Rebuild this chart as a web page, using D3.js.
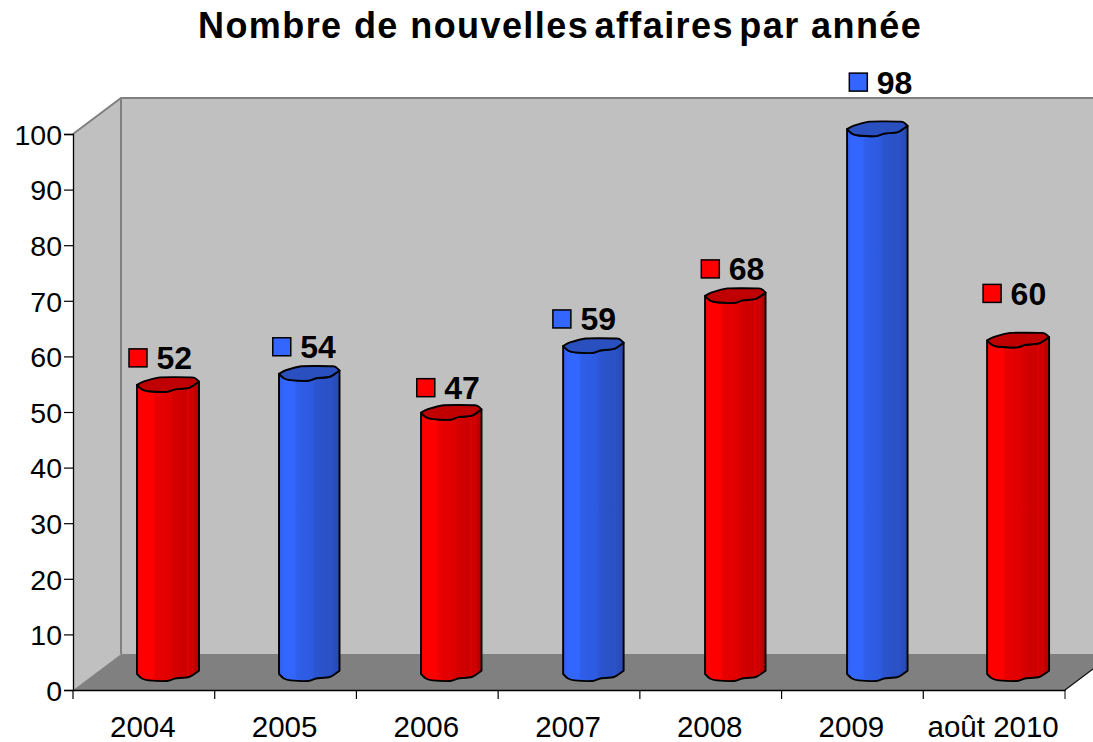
<!DOCTYPE html>
<html><head><meta charset="utf-8">
<script src="https://cdn.jsdelivr.net/npm/d3@7"></script>
<style>html,body{margin:0;background:#fff}svg{display:block;font-family:"Liberation Sans",Arial,sans-serif}</style>
</head><body><svg id="c" width="1093" height="742"></svg>
<script>
const categories = ["2004","2005","2006","2007","2008","2009","août 2010"];
const values = [52,54,47,59,68,98,60];
const seriesColors = ["red","blue","red","blue","red","blue","red"];
const yTicks = [0,10,20,30,40,50,60,70,80,90,100];

const svg = d3.select("#c");
const x = d3.scaleBand().domain(categories).range([73,1065]);
const y = d3.scaleLinear().domain([0,100]).range([690,134]);
const depthX = 48, depthY = 36, barLift = 9, barInset = 64;
const barShift = [0,.3,.6,1,1.2,1.5,-.2];
const barWidths = [62,60.5,60.5,60.5,60.5,60.5,62];
const labelDx = [-30,-27.5,-25.5,-31.5,-25,-19,-26];
const labelDy = [-43,-43,-41,-43,-43,-63,-63];
const palette = {
  red:{top:"#c00000",stops:[[0,"#f00000"],[.04,"#ff0000"],[.25,"#ff0000"],[.3,"#e80000"],[.55,"#e00000"],[.6,"#d40000"],[.8,"#cc0000"],[.82,"#e00000"],[.86,"#c80000"],[.9,"#d40000"],[.93,"#c00000"],[1,"#b00000"]]},
  blue:{top:"#2a50c0",stops:[[0,"#2f5ee8"],[.08,"#3366ff"],[.25,"#3366ff"],[.3,"#2f5ee8"],[.55,"#2d5ae0"],[.6,"#2b55d0"],[.8,"#2a50c4"],[.85,"#2b52c8"],[1,"#2848b0"]]}
};
const defs = svg.append("defs");
Object.entries(palette).forEach(([k,p])=>{
  const g = defs.append("linearGradient").attr("id","g-"+k);
  p.stops.forEach(s=>g.append("stop").attr("offset",s[0]).attr("stop-color",s[1]));
});

// walls
const x0 = x.range()[0], x1 = x.range()[1], y0 = y(0), yT = y(100);
const wall = `M${x0},${y0}L${x0},${yT}L${x0+depthX},${yT-depthY}L1093,${yT-depthY}L1093,${y0-depthY}L${x0+depthX},${y0-depthY}Z`;
svg.append("path").attr("d",wall).attr("fill","#c0c0c0");
svg.append("path").attr("d",`M${x0},${y0}L${x0+depthX},${y0-depthY}L1093,${y0-depthY}L1093,${y0-21}L${x1},${y0}Z`).attr("fill","#808080");
svg.append("path").attr("d",`M${x0},${yT}L${x0+depthX},${yT-depthY}L1093,${yT-depthY}M${x0+depthX},${yT-depthY}L${x0+depthX},${y0-depthY}`)
  .attr("fill","none").attr("stroke","#808080").attr("stroke-width",2);
svg.append("path").attr("d",`M${x1},${y0}L1093,${y0-21}`).attr("fill","none").attr("stroke","#111").attr("stroke-width",1.3);

// bars
const front = [[0,-7],[5,-2.5],[12,-.6],[30,0],[38,-2.5],[52,-4],[62,-10.3]];
const back = [[62,-10.3],[59,-13],[55,-14.5],[23,-14.5],[7,-10.5],[0,-7]];
const line = d3.line().curve(d3.curveCardinal.tension(.4));
const bars = svg.selectAll("g.bar").data(categories).join("g").attr("class","bar")
  .attr("transform",(c,i)=>`translate(${x(c)+barInset+barShift[i]},0)`);
bars.each(function(c,i){
  const g = d3.select(this), v = values[i], col = seriesColors[i], w = barWidths[i];
  const fx = f=>f*w/62;
  const t = y(v)-barLift, b = y(0)-barLift;
  const fr = front.map(p=>[fx(p[0]),t+p[1]]);
  const bt = front.map(p=>[fx(p[0]),b+p[1]]).reverse();
  const bk = back.map(p=>[fx(p[0]),t+p[1]]);
  g.append("path").attr("d",line(fr)+"L"+line(bt).slice(1)+"Z").attr("fill",`url(#g-${col})`)
    .attr("stroke","#000").attr("stroke-width",1.9).attr("stroke-linejoin","round");
  g.append("path").attr("d",line(fr)+"L"+line(bk).slice(1)+"Z").attr("fill",palette[col].top)
    .attr("stroke","#000").attr("stroke-width",1.9).attr("stroke-linejoin","round");
  // label
  const mx = w/2+labelDx[i], my = y(v)+labelDy[i];
  g.append("rect").attr("x",mx-9).attr("y",my-9).attr("width",18).attr("height",18)
    .attr("fill",col==="red"?"#ff0000":"#3366ff").attr("stroke","#000").attr("stroke-width",1.5);
  g.append("text").attr("x",mx+18.5).attr("y",my+11.5).attr("font-size",32).attr("font-weight","bold")
    .attr("fill","#000").text(v);
});

// axes
const ax = svg.append("g").attr("transform",`translate(${x0},0)`)
  .call(d3.axisLeft(y).tickValues(yTicks).tickSize(9).tickPadding(2));
const bx = svg.append("g").attr("transform",`translate(0,${y0})`)
  .call(d3.axisBottom(x).tickSize(0).tickPadding(26));
bx.selectAll("g.tick").append("line").attr("x1",d=>-x.step()/2).attr("x2",d=>-x.step()/2).attr("y2",9).attr("stroke","#000");
bx.append("line").attr("x1",x1).attr("x2",x1).attr("y2",9).attr("stroke","#000");
[ax,bx].forEach(a=>{
  a.selectAll("text").attr("font-family","Liberation Sans").attr("fill","#000");
  a.selectAll("path.domain").attr("stroke","#000").attr("stroke-width",1.3);
  a.selectAll(".tick line").attr("stroke","#000").attr("stroke-width",1.2);
});
ax.selectAll("text").attr("font-size",28.5).attr("transform","translate(0,1.2)");
bx.selectAll("text").attr("font-size",29.5).attr("dx",-1);

// title
const title = svg.append("text").attr("x",198).attr("y",38).attr("font-size",36).attr("font-weight","bold")
  .attr("letter-spacing",1.42).attr("fill","#000");
title.append("tspan").text("Nombre de nouvelles");
title.append("tspan").attr("dx",-6).text(" affaires");
title.append("tspan").attr("dx",-6).text(" par année");
</script></body></html>
